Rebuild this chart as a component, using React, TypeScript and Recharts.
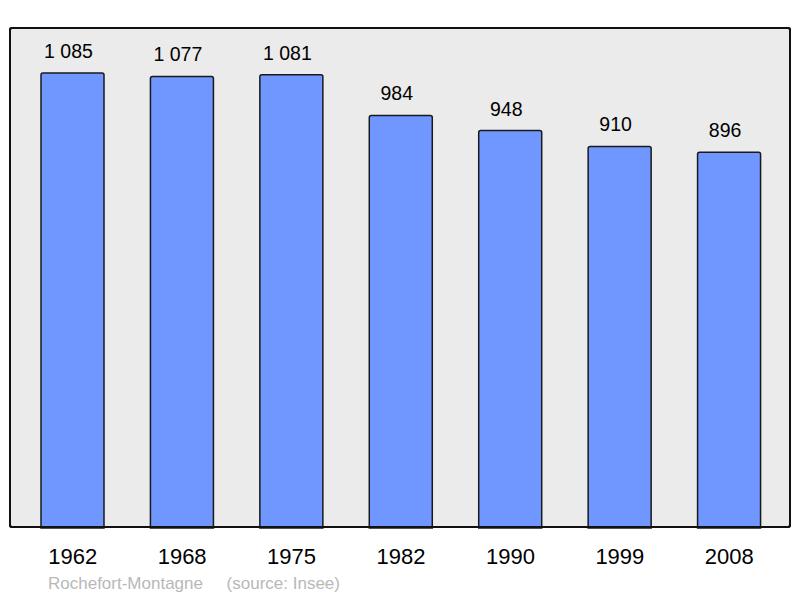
import { BarChart, Bar, XAxis, YAxis, LabelList, CartesianGrid } from "recharts";

const years = ["1962", "1968", "1975", "1982", "1990", "1999", "2008"];
const population = [1085, 1077, 1081, 984, 948, 910, 896];

const data = years.map((year, i) => ({ year, population: population[i] }));

const FONT = '"Liberation Sans", Arial, sans-serif';

// 1085 -> "1 085"
const formatPop = (v: any) => {
  const s = String(v);
  return s.length > 3 ? s.slice(0, -3) + " " + s.slice(-3) : s;
};

const YearTick = (props: any) => {
  const { x, y, payload } = props;
  return (
    <text x={x} y={y + 36} textAnchor="middle" fontSize={22} fill="#000" fontFamily={FONT}>
      {payload.value}
    </text>
  );
};

export default function App() {
  return (
    <div style={{ position: "relative", width: 784, height: 590, fontFamily: FONT }}>
      {/* plot frame background */}
      <div
        style={{
          position: "absolute",
          left: 1,
          top: 19,
          width: 778,
          height: 497,
          background: "#ebebeb",
          border: "2px solid #111",
          borderRadius: 3,
        }}
      />
      <div style={{ position: "absolute", left: 0, top: 0 }}>
        <BarChart
          width={784}
          height={590}
          data={data}
          margin={{ top: 19, right: 1, bottom: 20, left: 1 }}
        >
          <CartesianGrid stroke="none" fill="none" />
          <YAxis hide domain={[0, 1195]} />
          <XAxis
            dataKey="year"
            axisLine={false}
            tickLine={false}
            tickSize={0}
            tickMargin={0}
            height={50}
            padding={{ left: 9, right: 7 }}
            tick={<YearTick />}
            interval={0}
          />
          <Bar
            dataKey="population"
            barSize={63}
            fill="#7096ff"
            stroke="#1a1a1a"
            strokeWidth={1.5}
            radius={[2, 2, 0, 0]}
            isAnimationActive={false}
          >
            <LabelList
              dataKey="population"
              position="top"
              offset={15}
              dx={-4}
              formatter={formatPop}
              fontSize={19.5}
              fill="#000"
              fontFamily={FONT}
            />
          </Bar>
        </BarChart>
      </div>
      {/* border drawn over the bars */}
      <div
        style={{
          position: "absolute",
          left: 1,
          top: 19,
          width: 778,
          height: 497,
          border: "2px solid #111",
          borderRadius: 3,
          pointerEvents: "none",
        }}
      />
      <div
        style={{
          position: "absolute",
          left: 40,
          top: 567,
          fontSize: 17,
          lineHeight: "18px",
          color: "#b8b8b8",
          whiteSpace: "pre",
        }}
      >
        {"Rochefort-Montagne     (source: Insee)"}
      </div>
    </div>
  );
}
